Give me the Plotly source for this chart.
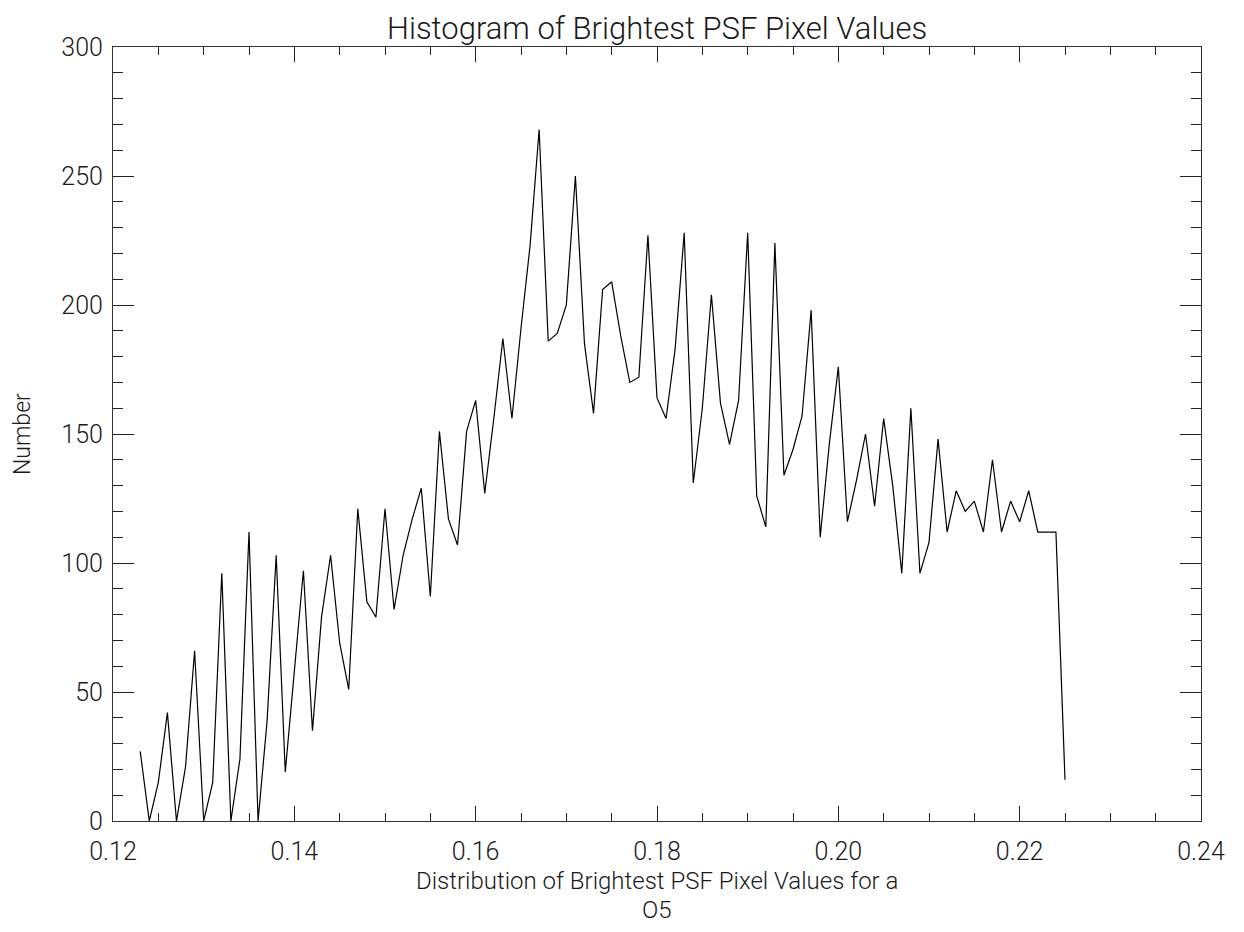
import plotly.graph_objects as go

# Bin values (x) and counts (y)
pixel_values = [
    0.123, 0.124, 0.125, 0.126, 0.127, 0.128, 0.129, 0.130, 0.131, 0.132,
    0.133, 0.134, 0.135, 0.136, 0.137, 0.138, 0.139, 0.140, 0.141, 0.142,
    0.143, 0.144, 0.145, 0.146, 0.147, 0.148, 0.149, 0.150, 0.151, 0.152,
    0.153, 0.154, 0.155, 0.156, 0.157, 0.158, 0.159, 0.160, 0.161, 0.162,
    0.163, 0.164, 0.165, 0.166, 0.167, 0.168, 0.169, 0.170, 0.171, 0.172,
    0.173, 0.174, 0.175, 0.176, 0.177, 0.178, 0.179, 0.180, 0.181, 0.182,
    0.183, 0.184, 0.185, 0.186, 0.187, 0.188, 0.189, 0.190, 0.191, 0.192,
    0.193, 0.194, 0.195, 0.196, 0.197, 0.198, 0.199, 0.200, 0.201, 0.202,
    0.203, 0.204, 0.205, 0.206, 0.207, 0.208, 0.209, 0.210, 0.211, 0.212,
    0.213, 0.214, 0.215, 0.216, 0.217, 0.218, 0.219, 0.220, 0.221, 0.222,
    0.223, 0.224, 0.225,
]
counts = [
    27, 0, 15, 42, 0, 21, 66, 0, 15, 96,
    0, 24, 112, 0, 39, 103, 19, 59, 97, 35,
    79, 103, 69, 51, 121, 85, 79, 121, 82, 103,
    117, 129, 87, 151, 117, 107, 151, 163, 127, 156,
    187, 156, 191, 223, 268, 186, 189, 200, 250, 185,
    158, 206, 209, 188, 170, 172, 227, 164, 156, 183,
    228, 131, 160, 204, 162, 146, 163, 228, 126, 114,
    224, 134, 144, 157, 198, 110, 146, 176, 116, 132,
    150, 122, 156, 130, 96, 160, 96, 108, 148, 112,
    128, 120, 124, 112, 140, 112, 124, 116, 128, 112,
    112, 112, 16,
]

x_tick_vals = [0.12, 0.14, 0.16, 0.18, 0.20, 0.22, 0.24]
x_tick_text = ["0.12", "0.14", "0.16", "0.18", "0.20", "0.22", "0.24"]
y_tick_vals = [0, 50, 100, 150, 200, 250, 300]
y_tick_text = ["0", "50", "100", "150", "200", "250", "300"]

title_text = "Histogram of Brightest PSF Pixel Values"
x_title_line1 = "Distribution of Brightest PSF Pixel Values for a"
x_title_line2 = "O5"
y_title_text = "Number"

FONT = "Roboto, DejaVu Sans, sans-serif"
TXT = "#1a1a1a"
# page body adds an 8px offset, so the figure is sized to fit inside the window
OFF = 8
W, H = 1244 - 2 * OFF, 932 - 2 * OFF
PL, PR, PT, PB = 113, 1201, 47, 821          # plot box in window pixels
L, R, T, B = PL - OFF, W - (PR - OFF), PT - OFF, H - (PB - OFF)

fig = go.Figure()
fig.add_trace(go.Scatter(
    x=pixel_values, y=counts, mode="lines",
    line=dict(color="black", width=1.2),
    showlegend=False, hoverinfo="x+y",
))

axis_common = dict(
    showgrid=False, zeroline=False,
    showline=True, linecolor="#333333", linewidth=1.2,
    mirror="ticks", ticks="inside", tickcolor="#222222", tickwidth=1.2,
    tickfont=dict(family=FONT, size=25, color=TXT, weight=300),
)

fig.update_xaxes(
    range=[0.12, 0.24], tickmode="array",
    tickvals=x_tick_vals, ticktext=x_tick_text,
    ticklen=15, ticklabelstandoff=8,
    minor=dict(dtick=0.005, ticks="inside", ticklen=8, tickcolor="#222222", tickwidth=1.2),
    **axis_common,
)
fig.update_yaxes(
    range=[0, 300], tickmode="array",
    tickvals=y_tick_vals, ticktext=y_tick_text,
    ticklen=21, ticklabelstandoff=4,
    minor=dict(dtick=10, ticks="inside", ticklen=10, tickcolor="#222222", tickwidth=1.2),
    **axis_common,
)

plot_w = W - L - R
plot_h = H - T - B

def py_to_paper(py):
    # window pixel y -> paper coordinate
    return (PB - py) / plot_h

def px_to_paper(px):
    return (px - PL) / plot_w

fig.add_annotation(
    text=title_text, xref="paper", yref="paper",
    x=0.5, y=py_to_paper(9), xanchor="center", yanchor="top",
    showarrow=False, borderpad=0,
    font=dict(family=FONT, size=31, color=TXT, weight=300),
)
fig.add_annotation(
    text=x_title_line1, xref="paper", yref="paper",
    x=0.5, y=py_to_paper(881), xanchor="center", yanchor="middle",
    showarrow=False, borderpad=0,
    font=dict(family=FONT, size=24, color=TXT, weight=300),
)
fig.add_annotation(
    text=x_title_line2, xref="paper", yref="paper",
    x=0.5, y=py_to_paper(909.5), xanchor="center", yanchor="middle",
    showarrow=False, borderpad=0,
    font=dict(family=FONT, size=24, color=TXT, weight=300),
)
fig.add_annotation(
    text=y_title_text, xref="paper", yref="paper",
    x=px_to_paper(22), y=0.5, xanchor="center", yanchor="middle",
    textangle=-90, showarrow=False, borderpad=0,
    font=dict(family=FONT, size=23, color=TXT, weight=300),
)

fig.update_layout(
    width=W, height=H,
    margin=dict(l=L, r=R, t=T, b=B, autoexpand=False),
    paper_bgcolor="white", plot_bgcolor="white",
)

fig.write_html("out.html")
